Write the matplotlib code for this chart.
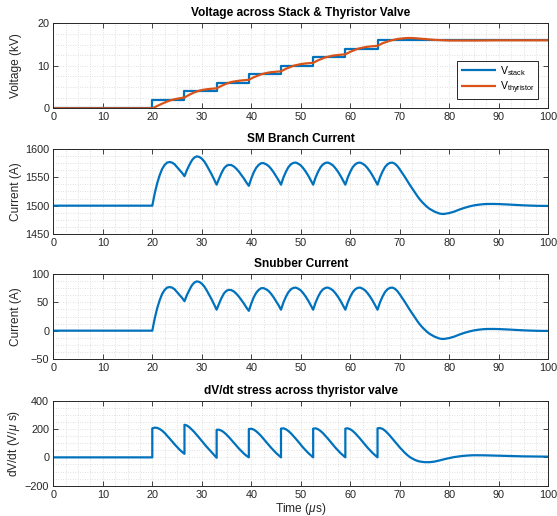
"""Thyristor valve switching transient: stack voltage, branch current, snubber current, dV/dt."""

import matplotlib
matplotlib.use("Agg")
import matplotlib.pyplot as plt
from matplotlib.ticker import MultipleLocator

plt.rcParams["font.family"] = ["Liberation Sans", "DejaVu Sans"]
plt.rcParams["mathtext.fontset"] = "custom"
plt.rcParams["mathtext.rm"] = "Liberation Sans"
plt.rcParams["mathtext.it"] = "Liberation Sans:italic"

BLUE = "#0072BD"
ORANGE = "#D95319"
DARK = "#262626"

# --- stack / thyristor voltage (kV) ---
t_stack = [0, 20, 26.5, 33, 39.5, 46, 52.5, 59, 65.5, 100]
v_stack = [0, 2, 4, 6, 8, 10, 12, 14, 16, 16]

t_vth = [0, 20, 21, 22, 23, 24, 25, 26, 26.5,
         27.5, 28.5, 29.5, 30.5, 31.5, 33,
         34, 35, 36, 37, 38, 39.5,
         40.5, 42, 43, 44, 46,
         47, 48.5, 50, 51, 52.5,
         53.5, 55, 56.5, 58, 59,
         60, 61.5, 63, 64, 65.5,
         66.5, 68, 69.5, 71, 72, 73, 75, 77, 80, 85, 90, 100]
v_vth = [0, 0, 0.55, 1.1, 1.6, 2.0, 2.25, 2.45, 2.55,
         3.2, 3.75, 4.15, 4.4, 4.55, 4.7,
         5.3, 5.8, 6.2, 6.4, 6.55, 6.7,
         7.3, 8.0, 8.3, 8.5, 8.7,
         9.3, 10.0, 10.4, 10.55, 10.7,
         11.3, 12.0, 12.4, 12.6, 12.7,
         13.3, 14.0, 14.4, 14.55, 14.7,
         15.3, 15.9, 16.3, 16.5, 16.55, 16.5, 16.3, 16.1, 15.95, 15.95, 16.0, 16.0]

# --- currents (A), shared time base (us) ---
t_cur = [0, 20.0,
         20.5, 21.0, 21.5, 22.0, 22.5, 23.0, 23.5, 24.0, 24.5, 25.0, 25.5, 26.0, 26.5,
         27.0, 27.5, 28.0, 28.5, 29.0, 29.5, 30.0, 30.5, 31.0, 31.5, 32.0, 32.5, 33.0,
         33.5, 34.0, 34.5, 35.0, 35.5, 36.0, 36.5, 37.0, 37.5, 38.0, 38.5, 39.0, 39.5,
         40.0, 40.5, 41.0, 41.5, 42.0, 42.5, 43.0, 43.5, 44.0, 44.5, 45.0, 45.5, 46.0,
         46.5, 47.0, 47.5, 48.0, 48.5, 49.0, 49.5, 50.0, 50.5, 51.0, 51.5, 52.0, 52.5,
         53.0, 53.5, 54.0, 54.5, 55.0, 55.5, 56.0, 56.5, 57.0, 57.5, 58.0, 58.5, 59.0,
         59.5, 60.0, 60.5, 61.0, 61.5, 62.0, 62.5, 63.0, 63.5, 64.0, 64.5, 65.0, 65.5,
         66.0, 66.5, 67.0, 67.5, 68.0, 68.5, 69.0, 69.5, 70.0, 70.5, 71.0, 71.5, 72.0,
         72.5, 73.0, 73.5, 74.0, 74.5, 75.0, 75.5, 76.0, 77.0, 78.0, 78.5, 79.0, 80.0,
         81.0, 82.0, 83.0, 84.0, 85.0, 86.0, 87.0, 88.0, 89.0, 90.0, 92.0, 94.0, 96.0,
         98.0, 100.0]

i_snubber = [0, 0,
             22, 40, 54, 65, 72, 76, 77, 76, 73, 68, 63, 58, 52,
             63, 72, 80, 85, 87, 86, 83, 78, 71, 63, 55, 46, 37,
             48, 58, 66, 70.5, 72, 71.5, 69, 65, 60, 54, 48, 41, 35,
             48, 59, 67, 72, 75, 75, 73, 70, 65, 59, 52, 45, 37,
             50, 60, 68, 73, 75.5, 76, 74, 71, 66, 60, 53, 45, 37,
             50, 60, 68, 73, 75.5, 76, 74, 71, 66, 60, 53, 45, 37,
             50, 60, 68, 73, 75.5, 76, 74, 71, 66, 60, 53, 45, 37,
             50, 60, 68, 73, 75.5, 76, 74, 70, 64, 57.5, 51, 44, 37,
             30.5, 24, 17.5, 11.5, 6.5, 2, -2, -5.5, -10.5, -13.8, -14.6, -14.5, -13,
             -10.5, -7, -4, -1.5, 0.5, 1.8, 2.7, 3, 3, 2.8, 2, 1, 0.2,
             -0.3, -0.5]

i_branch = [1500, 1500,
            1522, 1540, 1554, 1565, 1572, 1576, 1577, 1576, 1573, 1568, 1563, 1558, 1552,
            1563, 1572, 1580, 1585, 1587, 1586, 1583, 1578, 1571, 1563, 1555, 1546, 1537,
            1548, 1558, 1566, 1570.5, 1572, 1571.5, 1569, 1565, 1560, 1554, 1548, 1541, 1535,
            1548, 1559, 1567, 1572, 1575, 1575, 1573, 1570, 1565, 1559, 1552, 1545, 1537,
            1550, 1560, 1568, 1573, 1575.5, 1576, 1574, 1571, 1566, 1560, 1553, 1545, 1537,
            1550, 1560, 1568, 1573, 1575.5, 1576, 1574, 1571, 1566, 1560, 1553, 1545, 1537,
            1550, 1560, 1568, 1573, 1575.5, 1576, 1574, 1571, 1566, 1560, 1553, 1545, 1537,
            1550, 1560, 1568, 1573, 1575.5, 1576, 1574, 1570, 1564, 1557.5, 1551, 1544, 1537,
            1530.5, 1524, 1517.5, 1511.5, 1506.5, 1502, 1498, 1494.5, 1489.5, 1486.2, 1485.4, 1485.5, 1487,
            1489.5, 1493, 1496, 1498.5, 1500.5, 1501.8, 1502.7, 1503, 1503, 1502.8, 1502, 1501, 1500.2,
            1499.7, 1499.5]

# --- dV/dt across the valve (V/us); repeated times mark the vertical jumps ---
t_dvdt = [0, 20,
          20, 20.5, 21, 21.5, 22, 22.5, 23, 23.5, 24, 24.5, 25, 25.5, 26, 26.5,
          26.5, 27, 27.5, 28, 28.5, 29, 29.5, 30, 30.5, 31, 31.5, 32, 32.5, 33,
          33, 33.5, 34, 34.5, 35, 35.5, 36, 36.5, 37, 37.5, 38, 38.5, 39, 39.5,
          39.5, 40, 40.5, 41, 41.5, 42, 42.5, 43, 43.5, 44, 44.5, 45, 45.5, 46,
          46, 46.5, 47, 47.5, 48, 48.5, 49, 49.5, 50, 50.5, 51, 51.5, 52, 52.5,
          52.5, 53, 53.5, 54, 54.5, 55, 55.5, 56, 56.5, 57, 57.5, 58, 58.5, 59,
          59, 59.5, 60, 60.5, 61, 61.5, 62, 62.5, 63, 63.5, 64, 64.5, 65, 65.5,
          65.5, 66, 66.5, 67, 67.5, 68, 68.5, 69, 69.5, 70, 70.5, 71, 71.5,
          72, 72.5, 73, 73.5, 74, 75, 76, 77, 78, 79, 80, 81, 82, 83, 84, 85,
          86, 87, 88, 90, 92, 95, 100]
dvdt = [0, 0,
        205, 210, 208, 200, 188, 172, 153, 133, 112, 92, 73, 55, 39, 25,
        230, 225, 212, 196, 178, 158, 137, 116, 95, 74, 55, 37, 18, -3,
        195, 195, 188, 176, 160, 142, 122, 102, 82, 62, 44, 27, 12, 0,
        200, 202, 196, 184, 168, 150, 130, 109, 88, 68, 49, 31, 15, 0,
        203, 205, 198, 186, 170, 151, 131, 110, 89, 68, 49, 31, 15, 0,
        203, 205, 198, 186, 170, 151, 131, 110, 89, 68, 49, 31, 15, 0,
        203, 205, 198, 186, 170, 151, 131, 110, 89, 68, 49, 31, 15, 0,
        205, 207, 201, 189, 172, 153, 132, 111, 90, 70, 51, 33, 17,
        3, -8, -17, -24, -29, -34, -34, -30, -22, -13, -5, 2, 7, 11, 13.5, 15,
        15, 14.5, 13.5, 11, 9, 7, 5]

W, H = 557, 516
LEFT, RIGHT = 53.3, 548.3
PANEL_TOPS = [23.3, 149.0, 274.0, 400.7]
PANEL_H = 85.0
YLABEL_X = (22 - LEFT) / (RIGHT - LEFT)   # same label column for all panels


def _panel(fig, top):
    return fig.add_axes([LEFT / W, (H - top - PANEL_H) / H, (RIGHT - LEFT) / W, PANEL_H / H])


def _style(ax, ylim, ymajor, title, ylabel):
    ax.set_xlim(0, 100)
    ax.set_ylim(*ylim)
    ax.xaxis.set_major_locator(MultipleLocator(10))
    ax.xaxis.set_minor_locator(MultipleLocator(2.5))
    ax.yaxis.set_major_locator(MultipleLocator(ymajor))
    ax.yaxis.set_minor_locator(MultipleLocator(ymajor / 4))
    ax.grid(which="both", linestyle=(0, (1, 2.5)), color="#c4c4c4", linewidth=0.5)
    ax.set_axisbelow(True)
    ax.tick_params(which="major", direction="in", top=True, right=True, length=3.5,
                   width=0.6, color=DARK, labelcolor=DARK, labelsize=7.8, pad=3)
    ax.tick_params(which="minor", length=0)
    for sp in ax.spines.values():
        sp.set_color(DARK)
        sp.set_linewidth(0.7)
    ax.set_title(title, fontsize=8.6, fontweight="bold", color="black", pad=5)
    ax.set_ylabel(ylabel, fontsize=8.6, color=DARK)
    ax.yaxis.set_label_coords(YLABEL_X, 0.5)


fig = plt.figure(figsize=(W / 100, H / 100), dpi=100)
line_kw = dict(linewidth=1.6, solid_joinstyle="round", solid_capstyle="butt")

ax1 = _panel(fig, PANEL_TOPS[0])
ax1.step(t_stack, v_stack, where="post", color=BLUE, label=r"V$_{\mathrm{stack}}$", **line_kw)
ax1.plot(t_vth, v_vth, color=ORANGE, label=r"V$_{\mathrm{thyristor}}$", **line_kw)
_style(ax1, (0, 20), 10, "Voltage across Stack & Thyristor Valve", "Voltage (kV)")
leg = ax1.legend(loc="lower right", bbox_to_anchor=(0.979, 0.111), borderaxespad=0,
                 fancybox=False, framealpha=1, edgecolor=DARK, fontsize=7.6,
                 handlelength=3.4, handletextpad=0.3, labelspacing=0.15, borderpad=0.3)
leg.get_frame().set_linewidth(0.7)

ax2 = _panel(fig, PANEL_TOPS[1])
ax2.plot(t_cur, i_branch, color=BLUE, **line_kw)
_style(ax2, (1450, 1600), 50, "SM Branch Current", "Current (A)")

ax3 = _panel(fig, PANEL_TOPS[2])
ax3.plot(t_cur, i_snubber, color=BLUE, **line_kw)
_style(ax3, (-50, 100), 50, "Snubber Current", "Current (A)")

ax4 = _panel(fig, PANEL_TOPS[3])
ax4.plot(t_dvdt, dvdt, color=BLUE, **line_kw)
_style(ax4, (-200, 400), 200, "dV/dt stress across thyristor valve", r"dV/dt (V/$\mu$ s)")
ax4.set_xlabel(r"Time ($\mu$s)", fontsize=8.6, color=DARK, labelpad=1)

fig.savefig("out.png", dpi=100)
